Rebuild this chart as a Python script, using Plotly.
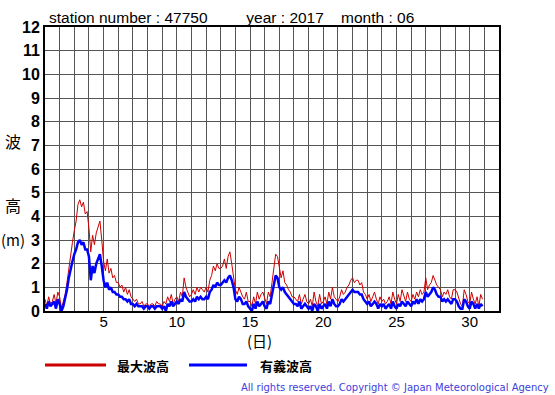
import plotly.graph_objects as go

# Sampling every 3 hours
days = list(range(1, 31))
hours = [0, 3, 6, 9, 12, 15, 18, 21]

max_wave = [
    0.5, 0.2, 0.6, 0.3, 0.4, 0.7, 0.3, 0.8,
    0.6, 0.1, 0.4, 0.7, 1.2, 1.8, 2.5, 2.9,
    3.4, 3.8, 4.5, 4.7, 4.4, 4.6, 4.1, 4.2,
    3.5, 2.5, 3.2, 2.8, 3.3, 3.6, 3.8, 3.0,
    2.1, 1.7, 2.2, 1.6, 1.8, 1.4, 1.5, 1.2,
    1.2, 1.0, 1.1, 0.8, 1.0, 0.7, 0.9, 0.6,
    0.5, 0.4, 0.5, 0.3, 0.3, 0.4, 0.2, 0.3,
    0.3, 0.2, 0.3, 0.3, 0.2, 0.4, 0.3, 0.3,
    0.2, 0.4, 0.3, 0.6, 0.4, 0.7, 0.3, 0.5,
    0.6, 0.4, 0.8, 0.6, 1.4, 1.0, 0.8, 0.6,
    0.7, 0.9, 0.7, 1.0, 0.8, 1.0, 0.9, 0.8,
    1.0, 0.8, 1.3, 1.5, 1.9, 1.7, 2.0, 1.8,
    1.8, 1.9, 2.2, 1.8, 2.3, 2.5, 2.0, 1.5,
    0.9, 0.7, 1.0, 0.8, 0.6, 0.5, 0.8, 0.4,
    0.4, 0.2, 0.6, 0.3, 0.8, 0.5, 0.7, 0.8,
    0.5, 0.3, 0.8, 0.6, 1.2, 1.8, 2.4, 2.3,
    1.8, 1.4, 1.7, 1.2, 1.1, 0.9, 0.8, 0.6,
    0.6, 0.5, 0.4, 0.7, 0.3, 0.5, 0.7, 0.4,
    0.3, 0.5, 0.2, 0.8, 0.4, 0.2, 0.7, 0.3,
    0.4, 0.6, 0.3, 0.8, 0.5, 1.0, 0.6, 0.5,
    0.4, 0.6, 0.9, 0.7, 0.8, 1.0, 1.1, 1.3,
    1.4, 1.2, 1.3, 1.3, 1.1, 1.2, 0.8, 0.7,
    0.5, 0.7, 0.4, 0.6, 0.8, 0.5, 0.3, 0.6,
    0.4, 0.5, 0.3, 0.4, 0.6, 0.3, 0.8, 0.5,
    0.3, 0.7, 0.4, 0.9, 0.6, 0.4, 0.8, 0.5,
    0.4, 0.7, 0.5, 0.8, 0.6, 0.9, 0.7, 0.8,
    1.4, 0.9, 1.1, 1.2, 1.5, 1.3, 1.1, 1.0,
    0.9, 0.6, 0.8, 0.7, 0.9, 0.6, 0.5, 0.9,
    0.9, 0.8, 0.5, 0.3, 0.2, 0.9, 0.7, 0.4,
    0.3, 0.8, 0.5, 0.3, 0.6, 0.2, 0.7, 0.5,
]

sig_wave = [
    0.3, 0.1, 0.4, 0.2, 0.3, 0.4, 0.1, 0.5,
    0.3, 0.0, 0.2, 0.5, 0.9, 1.4, 1.8, 2.1,
    2.4, 2.6, 2.9, 3.0, 2.8, 2.9, 2.6, 2.6,
    2.3, 1.3, 1.9, 1.6, 2.0, 2.2, 2.4, 1.9,
    1.3, 1.0, 1.2, 0.9, 1.0, 0.8, 0.8, 0.7,
    0.7, 0.6, 0.6, 0.5, 0.5, 0.4, 0.5, 0.3,
    0.3, 0.2, 0.3, 0.2, 0.2, 0.2, 0.1, 0.2,
    0.2, 0.1, 0.2, 0.2, 0.1, 0.2, 0.2, 0.2,
    0.1, 0.2, 0.0, 0.3, 0.2, 0.4, 0.2, 0.3,
    0.4, 0.3, 0.5, 0.4, 0.8, 0.6, 0.5, 0.4,
    0.4, 0.5, 0.4, 0.6, 0.5, 0.6, 0.5, 0.5,
    0.6, 0.5, 0.8, 0.9, 1.1, 1.0, 1.2, 1.1,
    1.1, 1.2, 1.3, 1.2, 1.4, 1.5, 1.3, 1.0,
    0.5, 0.4, 0.6, 0.5, 0.3, 0.3, 0.4, 0.2,
    0.1, 0.0, 0.3, 0.1, 0.4, 0.2, 0.3, 0.4,
    0.2, 0.1, 0.4, 0.3, 0.7, 1.1, 1.5, 1.4,
    1.0, 0.9, 1.0, 0.8, 0.7, 0.6, 0.5, 0.4,
    0.3, 0.3, 0.2, 0.4, 0.1, 0.2, 0.3, 0.2,
    0.1, 0.2, 0.0, 0.3, 0.2, 0.0, 0.3, 0.1,
    0.2, 0.3, 0.1, 0.4, 0.2, 0.5, 0.3, 0.2,
    0.2, 0.3, 0.5, 0.4, 0.5, 0.6, 0.7, 0.8,
    0.9, 0.8, 0.8, 0.8, 0.7, 0.7, 0.5, 0.4,
    0.3, 0.4, 0.2, 0.3, 0.4, 0.3, 0.1, 0.3,
    0.2, 0.3, 0.1, 0.2, 0.3, 0.1, 0.4, 0.2,
    0.1, 0.3, 0.2, 0.4, 0.3, 0.2, 0.4, 0.3,
    0.2, 0.4, 0.3, 0.5, 0.3, 0.5, 0.4, 0.5,
    0.8, 0.6, 0.7, 0.8, 1.0, 0.9, 0.7, 0.6,
    0.6, 0.4, 0.5, 0.4, 0.5, 0.4, 0.3, 0.5,
    0.5, 0.4, 0.2, 0.1, 0.1, 0.5, 0.4, 0.2,
    0.1, 0.4, 0.3, 0.1, 0.3, 0.1, 0.3, 0.2,
]

x_ticks = [5, 10, 15, 20, 25, 30]
y_ticks = list(range(0, 13))

sp = "&nbsp;"
title_text = "station number : 47750" + sp * 9 + "year : 2017" + sp * 4 + "month : 06"
legend_max = "最大波高"
legend_sig = "有義波高"
copyright_text = "All rights reserved. Copyright © Japan Meteorological Agency"

x = [d + h / 24 for d in days for h in hours]

L, R, T, B = 45, 499, 27, 311
W, H = 555, 395

def px(xp):
    return (xp - L) / (R - L)

def py(yp):
    return (B - yp) / (B - T)

fig = go.Figure()
fig.add_trace(go.Scatter(x=x, y=max_wave, mode="lines",
                         line=dict(color="#cc0000", width=1), showlegend=False))
fig.add_trace(go.Scatter(x=x, y=sig_wave, mode="lines",
                         line=dict(color="#0000ff", width=2.5), showlegend=False))

common = dict(showgrid=True, gridcolor="#555555", gridwidth=1,
              showline=True, linecolor="black", linewidth=2, mirror=True,
              zeroline=False, ticks="")
fig.update_xaxes(range=[1, 32], tickvals=x_ticks,
                 ticktext=[str(v) for v in x_ticks],
                 minor=dict(tickvals=list(range(1, 33)), showgrid=True,
                            gridcolor="#555555", gridwidth=1, ticks=""),
                 ticklabelstandoff=-4,
                 tickfont=dict(family="Liberation Sans", size=15, color="black"),
                 **common)
fig.update_yaxes(range=[0, 12], tickvals=y_ticks,
                 ticktext=["<b>%d</b>" % v for v in y_ticks],
                 tickfont=dict(family="Liberation Sans", size=16, color="black"),
                 **common)

cjk = "Noto Sans CJK JP"
ann = [
    dict(x=px(47), y=py(17), text=title_text, xanchor="left",
         font=dict(family="Liberation Sans", size=15.5, color="black")),
    dict(x=px(13), y=py(141), text="波", xanchor="center",
         font=dict(family=cjk, size=16, color="black")),
    dict(x=px(13), y=py(205), text="高", xanchor="center",
         font=dict(family=cjk, size=16, color="black")),
    dict(x=px(13), y=py(239), text="(m)", xanchor="center",
         font=dict(family=cjk, size=15, color="black")),
    dict(x=px(259), y=py(340), text="(日)", xanchor="center",
         font=dict(family=cjk, size=15, color="black")),
    dict(x=px(115), y=py(365), text="<b>" + legend_max + "</b>", xanchor="left",
         font=dict(family=cjk, size=13, color="black")),
    dict(x=px(258), y=py(365), text="<b>" + legend_sig + "</b>", xanchor="left",
         font=dict(family=cjk, size=13, color="black")),
    dict(x=px(551), y=py(387), text=copyright_text, xanchor="right",
         font=dict(family="DejaVu Sans", size=10, color="#4040dd")),
]
for a in ann:
    a.update(xref="paper", yref="paper", showarrow=False, yanchor="middle")

shapes = [
    dict(type="line", xref="paper", yref="paper", x0=px(45), x1=px(106), y0=py(365), y1=py(365),
         line=dict(color="#cc0000", width=3)),
    dict(type="line", xref="paper", yref="paper", x0=px(189), x1=px(247), y0=py(365), y1=py(365),
         line=dict(color="#0000ff", width=3)),
]

fig.update_layout(width=W, height=H, margin=dict(l=L, r=W - R, t=T, b=H - B),
                  paper_bgcolor="white", plot_bgcolor="white",
                  annotations=ann, shapes=shapes)

fig.write_html("out.html", config={"displayModeBar": False},
               post_script="document.body.style.margin='0';")
